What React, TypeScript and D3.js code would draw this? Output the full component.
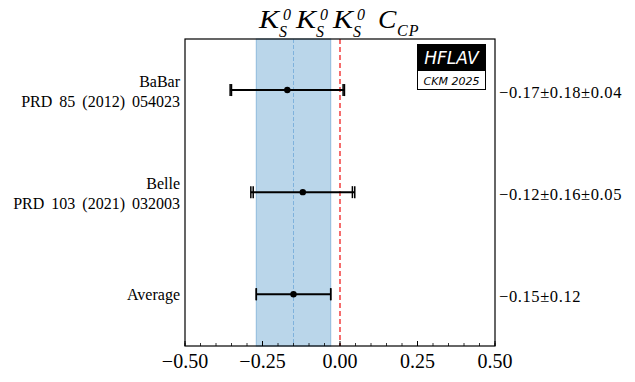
import React from "react";
import * as d3 from "d3";

const experiments = ["BaBar", "Belle", "Average"];
const references = ["PRD 85 (2012) 054023", "PRD 103 (2021) 032003", ""];
const centralValues = [-0.17, -0.12, -0.15];
const statErrors = [0.18, 0.16, 0.12];
const systErrors = [0.04, 0.05, 0];
const valueLabels = ["−0.17±0.18±0.04", "−0.12±0.16±0.05", "−0.15±0.12"];
const xTicks = [-0.5, -0.25, 0, 0.25, 0.5];
const xTickLabels = ["−0.50", "−0.25", "0.00", "0.25", "0.50"];
const rowPositions = [3, 2, 1];
const averageValue = -0.15;
const averageError = 0.12;

const W = 635;
const H = 382;
const left = 185;
const right = 495;
const top = 39;
const bottom = 346;

const serif = "'Liberation Serif', 'DejaVu Serif', serif";

export default function App() {
  const x = d3.scaleLinear().domain([-0.5, 0.5]).range([left, right]);
  const y = d3.scaleLinear().domain([0.493, 3.5]).range([bottom, top]);
  const minorTicks = d3.range(-0.5, 0.5001, 0.05).map((v) => Math.round(v * 100) / 100);

  const kGroup = (x0: number) => (
    <g key={x0}>
      <text x={x0} y={28} fontFamily={serif} fontStyle="italic" fontSize={25} transform={`translate(${x0},0) scale(1.2,1) translate(${-x0},0)`}>K</text>
      <text x={x0 + 24} y={20} fontFamily={serif} fontStyle="italic" fontSize={16}>0</text>
      <text x={x0 + 20} y={37} fontFamily={serif} fontStyle="italic" fontSize={16}>S</text>
    </g>
  );

  return (
    <svg width={W} height={H} style={{ position: "absolute", left: 0, top: 0, background: "#fff" }}>
      {/* title */}
      {[259, 296, 333].map(kGroup)}
      <text x={378} y={28} fontFamily={serif} fontStyle="italic" fontSize={25} transform="translate(378,0) scale(1.1,1) translate(-378,0)">C</text>
      <text x={397} y={36} fontFamily={serif} fontStyle="italic" fontSize={16} letterSpacing={1}>CP</text>

      {/* average band */}
      <rect
        x={x(averageValue - averageError)}
        y={top}
        width={x(averageValue + averageError) - x(averageValue - averageError)}
        height={bottom - top}
        fill="#bad6ea"
        stroke="#8fbbdc"
        strokeWidth={1}
      />
      <line x1={x(averageValue)} x2={x(averageValue)} y1={top} y2={bottom} stroke="#7fb2dc" strokeWidth={1} strokeDasharray="4,2" />
      <line x1={x(0)} x2={x(0)} y1={top} y2={bottom} stroke="#f02020" strokeWidth={1.3} strokeDasharray="5,3" />

      {/* error bars */}
      {centralValues.map((c, i) => {
        const tot = Math.sqrt(statErrors[i] ** 2 + systErrors[i] ** 2);
        const yy = y(rowPositions[i]);
        const caps = [c - tot, c + tot, c - statErrors[i], c + statErrors[i]];
        return (
          <g key={i}>
            <line x1={x(c - tot)} x2={x(c + tot)} y1={yy} y2={yy} stroke="#000" strokeWidth={2} />
            {caps.map((v, j) => (
              <line key={j} x1={x(v)} x2={x(v)} y1={yy - 6} y2={yy + 6} stroke="#000" strokeWidth={1.5} />
            ))}
            <circle cx={x(c)} cy={yy} r={3.2} fill="#000" />
          </g>
        );
      })}

      {/* HFLAV logo */}
      <rect x={417} y={44} width={69} height={26} fill="#000" />
      <text x={451.5} y={64} textAnchor="middle" fill="#fff" fontFamily="'DejaVu Sans', sans-serif" fontStyle="italic" fontSize={17}>HFLAV</text>
      <rect x={417.5} y={70.5} width={68} height={19} fill="#fff" stroke="#000" strokeWidth={1} />
      <text x={451.5} y={84.5} textAnchor="middle" fill="#000" fontFamily="'DejaVu Sans', sans-serif" fontStyle="italic" fontSize={11}>CKM 2025</text>

      {/* axes frame */}
      <rect x={left} y={top} width={right - left} height={bottom - top} fill="none" stroke="#000" strokeWidth={1.2} />
      {minorTicks.map((v) => (
        <line key={v} x1={x(v)} x2={x(v)} y1={bottom} y2={bottom - 3} stroke="#000" strokeWidth={0.8} />
      ))}
      {xTicks.map((v, i) => (
        <g key={v}>
          <line x1={x(v)} x2={x(v)} y1={bottom} y2={bottom - 5} stroke="#000" strokeWidth={1} />
          <text x={x(v)} y={368} textAnchor="middle" fontFamily={serif} fontSize={20}>{xTickLabels[i]}</text>
        </g>
      ))}

      {/* left labels */}
      {experiments.map((e, i) => {
        const yy = y(rowPositions[i]);
        return references[i] ? (
          <g key={e}>
            <text x={180} y={yy - 3} textAnchor="end" fontFamily={serif} fontSize={16}>{e}</text>
            <text x={180} y={yy + 17} textAnchor="end" fontFamily={serif} fontSize={16} wordSpacing={3}>{references[i]}</text>
          </g>
        ) : (
          <text key={e} x={180} y={yy + 6} textAnchor="end" fontFamily={serif} fontSize={16}>{e}</text>
        );
      })}

      {/* right labels */}
      {valueLabels.map((l, i) => (
        <text key={i} x={499} y={y(rowPositions[i]) + 8} fontFamily={serif} fontSize={16.5} letterSpacing={0.6}>{l}</text>
      ))}
    </svg>
  );
}
